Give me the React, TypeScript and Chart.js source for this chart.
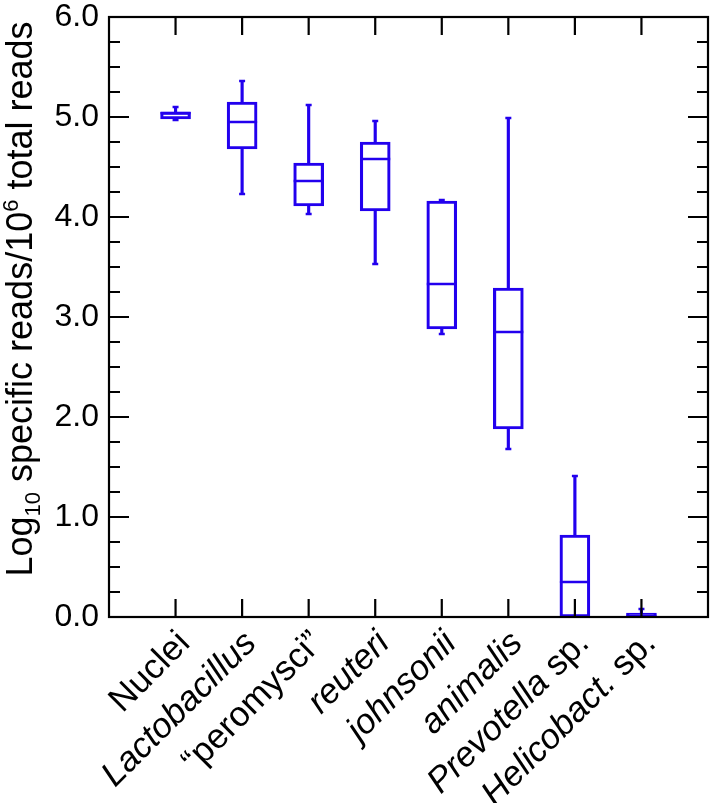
import React, { useEffect, useRef } from "react";
import { Chart, registerables } from "chart.js";

Chart.register(...registerables);

const categories = [
  [{ t: "Nuclei", i: false }],
  [{ t: "Lactobacillus", i: true }],
  [{ t: "\u201Cperomysci\u201D", i: false }],
  [{ t: "reuteri", i: true }],
  [{ t: "johnsonii", i: true }],
  [{ t: "animalis", i: true }],
  [{ t: "Prevotella", i: true }, { t: " sp.", i: false }],
  [{ t: "Helicobact.", i: true }, { t: " sp.", i: false }],
];
const mins = [4.97, 4.23, 4.03, 3.53, 2.83, 1.68, 0, 0];
const q1s = [4.98, 4.68, 4.11, 4.06, 2.88, 1.88, 0, 0];
const medians = [5.04, 4.95, 4.36, 4.58, 3.33, 2.85, 0.35, 0.01];
const q3s = [5.05, 5.15, 4.54, 4.75, 4.16, 3.29, 0.82, 0.04];
const maxs = [5.1, 5.36, 5.12, 4.96, 4.17, 4.99, 1.41, 0.08];
const yTicks = [0, 1, 2, 3, 4, 5, 6];

const BLUE = "#2200ee";
const FONT = '"Liberation Sans", Arial, Helvetica, sans-serif';
const LW = 2.5;

const framePlugin = {
  id: "frame",
  afterDraw(chart: any) {
    const { ctx, chartArea: ca, scales } = chart;
    const xs = scales.x;
    const ys = scales.y;
    ctx.save();
    ctx.strokeStyle = "#000";
    ctx.lineWidth = 2.2;
    ctx.lineCap = "butt";
    for (let k = 1; k < 24; k++) {
      const v = k * 0.25;
      const y = ys.getPixelForValue(v);
      const len = k % 4 === 0 ? 20 : 11;
      ctx.beginPath();
      ctx.moveTo(ca.left, y);
      ctx.lineTo(ca.left + len, y);
      ctx.moveTo(ca.right, y);
      ctx.lineTo(ca.right - len, y);
      ctx.stroke();
    }
    categories.forEach((_, i) => {
      const x = xs.getPixelForValue(i + 1);
      ctx.beginPath();
      ctx.moveTo(x, ca.top);
      ctx.lineTo(x, ca.top + 18);
      ctx.moveTo(x, ca.bottom);
      ctx.lineTo(x, ca.bottom - 18);
      ctx.stroke();
    });
    ctx.strokeRect(ca.left, ca.top, ca.right - ca.left, ca.bottom - ca.top);

    ctx.fillStyle = "#000";
    ctx.textBaseline = "middle";
    ctx.textAlign = "left";
    const fs = 35;
    categories.forEach((parts, i) => {
      const x = xs.getPixelForValue(i + 1);
      let total = 0;
      const widths = parts.map((p) => {
        ctx.font = `${p.i ? "italic " : ""}${fs}px ${FONT}`;
        const w = ctx.measureText(p.t).width;
        total += w;
        return w;
      });
      ctx.save();
      ctx.translate(x + 9, ca.bottom + 21);
      ctx.rotate(-Math.PI / 4);
      let cx = -total;
      parts.forEach((p, j) => {
        ctx.font = `${p.i ? "italic " : ""}${fs}px ${FONT}`;
        ctx.fillText(p.t, cx, 0);
        cx += widths[j];
      });
      ctx.restore();
    });

    const tfs = 36;
    const sfs = 22;
    const tparts = [
      { t: "Log", s: tfs, dy: 0 },
      { t: "10", s: sfs, dy: 8 },
      { t: " specific reads/10", s: tfs, dy: 0 },
      { t: "6", s: sfs, dy: -14 },
      { t: " total reads", s: tfs, dy: 0 },
    ];
    ctx.textBaseline = "alphabetic";
    let tw = 0;
    const tws = tparts.map((p) => {
      ctx.font = `${p.s}px ${FONT}`;
      const w = ctx.measureText(p.t).width;
      tw += w;
      return w;
    });
    ctx.save();
    ctx.translate(32, 299);
    ctx.rotate(-Math.PI / 2);
    let px = -tw / 2;
    tparts.forEach((p, j) => {
      ctx.font = `${p.s}px ${FONT}`;
      ctx.fillText(p.t, px, p.dy);
      px += tws[j];
    });
    ctx.restore();
    ctx.restore();
  },
};

export default function App() {
  const ref = useRef<HTMLCanvasElement | null>(null);
  useEffect(() => {
    if (!ref.current) return;
    Chart.defaults.font.family = FONT;
    const idx = categories.map((_, i) => i + 1);
    const chart = new Chart(ref.current, {
      type: "bar",
      data: {
        datasets: [
          {
            type: "bar",
            data: idx.map((x, i) => ({ x, y: [mins[i], q1s[i]] })) as any,
            backgroundColor: BLUE,
            borderWidth: 0,
            barThickness: LW,
            grouped: false,
            order: 3,
          } as any,
          {
            type: "bar",
            data: idx.map((x, i) => ({ x, y: [q3s[i], maxs[i]] })) as any,
            backgroundColor: BLUE,
            borderWidth: 0,
            barThickness: LW,
            grouped: false,
            order: 3,
          } as any,
          {
            type: "bar",
            data: idx.map((x, i) => ({ x, y: [q1s[i], q3s[i]] })) as any,
            backgroundColor: "rgba(255,255,255,0)",
            borderColor: BLUE,
            borderWidth: LW,
            borderSkipped: false,
            barThickness: 30,
            grouped: false,
            order: 2,
          } as any,
          {
            type: "scatter",
            data: idx.map((x, i) => ({ x, y: medians[i] })),
            pointStyle: "line",
            radius: 15,
            borderWidth: LW,
            borderColor: BLUE,
            order: 1,
          } as any,
          {
            type: "scatter",
            data: [
              ...idx.map((x, i) => ({ x, y: mins[i] })),
              ...idx.map((x, i) => ({ x, y: maxs[i] })),
            ],
            pointStyle: "line",
            radius: 3,
            borderWidth: LW,
            borderColor: BLUE,
            order: 1,
          } as any,
        ],
      },
      options: {
        animation: false,
        responsive: false,
        events: [],
        layout: { autoPadding: false, padding: { top: 17, right: 6, left: 0, bottom: 0 } },
        plugins: { legend: { display: false }, tooltip: { enabled: false } },
        scales: {
          x: {
            type: "linear",
            min: 0,
            max: 9,
            offset: false,
            grid: { display: false, drawTicks: false },
            border: { display: false },
            ticks: { display: false },
            afterFit: (s: any) => {
              s.height = 186;
              s.paddingLeft = 0;
              s.paddingRight = 0;
              s.paddingTop = 0;
              s.paddingBottom = 0;
            },
          },
          y: {
            type: "linear",
            min: 0,
            max: 6,
            grid: { display: false, drawTicks: false },
            border: { display: false },
            afterBuildTicks: (s: any) => {
              s.ticks = yTicks.map((v) => ({ value: v }));
            },
            ticks: {
              padding: 10,
              color: "#000",
              font: { size: 32, family: FONT },
              callback: (v: any) => Number(v).toFixed(1),
            },
            afterFit: (s: any) => {
              s.width = 109;
              s.paddingTop = 0;
              s.paddingBottom = 0;
              s.paddingLeft = 0;
              s.paddingRight = 0;
            },
          },
        },
      },
      plugins: [framePlugin],
    } as any);
    return () => chart.destroy();
  }, []);
  return (
    <div style={{ position: "absolute", left: 0, top: 0, width: 714, height: 803, background: "#fff" }}>
      <canvas ref={ref} width={714} height={803} style={{ display: "block" }} />
    </div>
  );
}
